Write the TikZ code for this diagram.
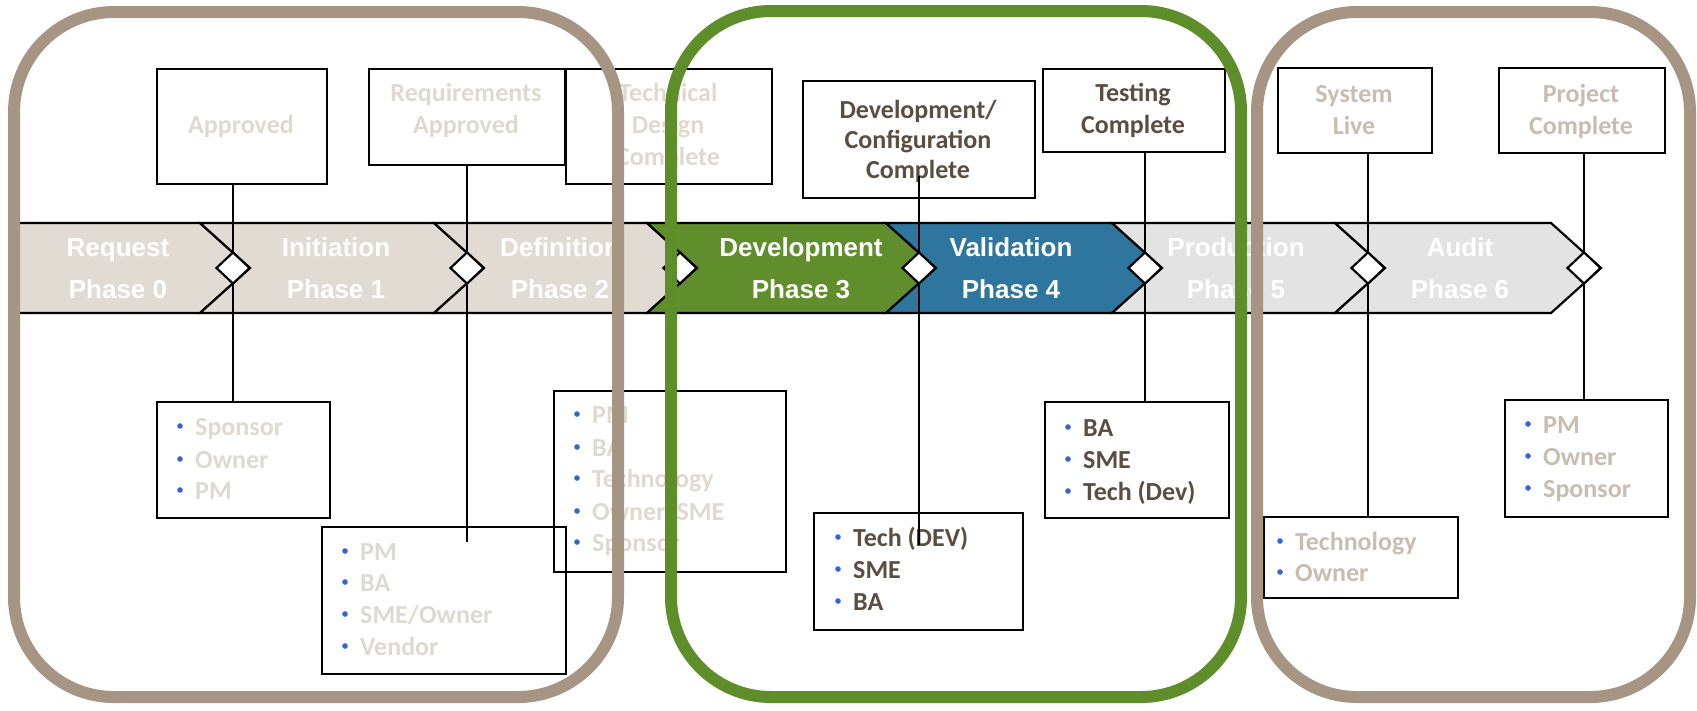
\documentclass[tikz,border=0pt]{standalone}
\usepackage{fontspec}
\usetikzlibrary{shapes.geometric}
\newfontfamily\chevfont{Liberation Sans}
\newfontfamily\labelfont{Carlito}
\definecolor{framebrown}{RGB}{166,149,130}
\definecolor{framegreen}{RGB}{94,142,42}
\definecolor{phgreen}{RGB}{96,142,44}
\definecolor{phblue}{RGB}{46,118,158}
\definecolor{phbeige}{RGB}{225,219,212}
\definecolor{phgray}{RGB}{227,227,227}
\definecolor{txtpale}{RGB}{224,217,209}
\definecolor{txtmid}{RGB}{201,189,178}
\definecolor{txtdark}{RGB}{91,77,64}
\definecolor{bulletblue}{RGB}{51,102,210}

% one bullet line: name, bullet x, line centre y, colour, text
\newcommand\bitem[5]{%
  \node[bullet] (#1b) at (#2,#3-1) {};
  \node[lbl, anchor=base west, text=#4] (#1) at (#2+15,#3+8.5) {#5};}

\begin{document}
\begin{tikzpicture}[x=1pt,y=-1pt,
  lbl/.style={font=\labelfont\bfseries\fontsize{26}{31}\selectfont, inner sep=0pt, anchor=base},
  chevtext/.style={font=\chevfont\bfseries\fontsize{26}{31}\selectfont, text=white, inner sep=0pt, anchor=base},
  box/.style={draw=black, line width=2.2pt, anchor=north west, inner sep=0pt},
  bullet/.style={circle, fill=bulletblue, inner sep=0pt, minimum size=5.6pt},
  chev/.style={draw=black, line width=2.2pt, line join=miter},
  gate/.style={diamond, draw=black, fill=white, line width=2.2pt, inner sep=0pt, minimum width=34pt, minimum height=32pt},
  link/.style={draw=black, line width=2.2pt},
  frame/.style={line width=12pt, rounded corners=100pt}]
\useasboundingbox (0,0) rectangle (1697,710);

% ---------- phase chevrons ----------
\fill[white] (0,0) rectangle (1697,710);
\path[chev, fill=phbeige] (14,223) -- (200,223) -- (250,268) -- (200,313) -- (14,313) -- cycle;
\path[chev, fill=phbeige] (200,223) -- (434,223) -- (484,268) -- (434,313) -- (200,313) -- (250,268) -- cycle;
\path[chev, fill=phbeige] (434,223) -- (647,223) -- (697,268) -- (647,313) -- (434,313) -- (484,268) -- cycle;
\path[chev, fill=phgreen] (647,223) -- (886,223) -- (936,268) -- (886,313) -- (647,313) -- (697,268) -- cycle;
\path[chev, fill=phblue] (886,223) -- (1112,223) -- (1162,268) -- (1112,313) -- (886,313) -- (936,268) -- cycle;
\path[chev, fill=phgray] (1112,223) -- (1335,223) -- (1385,268) -- (1335,313) -- (1112,313) -- (1162,268) -- cycle;
\path[chev, fill=phgray] (1335,223) -- (1551,223) -- (1601,268) -- (1551,313) -- (1335,313) -- (1385,268) -- cycle;

\node[chevtext] (p0a) at (118,256) {Request};
\node[chevtext] (p0b) at (118,298) {Phase 0};
\node[chevtext] (p1a) at (336,256) {Initiation};
\node[chevtext] (p1b) at (336,298) {Phase 1};
\node[chevtext] (p2a) at (560,256) {Definition};
\node[chevtext] (p2b) at (560,298) {Phase 2};
\node[chevtext] (p3a) at (801,256) {Development};
\node[chevtext] (p3b) at (801,298) {Phase 3};
\node[chevtext] (p4a) at (1011,256) {Validation};
\node[chevtext] (p4b) at (1011,298) {Phase 4};
\node[chevtext] (p5a) at (1236,256) {Production};
\node[chevtext] (p5b) at (1236,298) {Phase 5};
\node[chevtext] (p6a) at (1460,256) {Audit};
\node[chevtext] (p6b) at (1460,298) {Phase 6};

% ---------- milestone boxes ----------
\node[box, minimum width=170pt, minimum height=115pt] (t1) at (156,68) {};
\node[box, minimum width=196pt, minimum height=96pt] (t2) at (368,68) {};
\node[box, minimum width=206pt, minimum height=115pt] (t3) at (565,68) {};
\node[box, minimum width=232pt, minimum height=117pt] (t4) at (802,80) {};
\node[box, minimum width=182pt, minimum height=83pt] (t5) at (1042,68) {};
\node[box, minimum width=154pt, minimum height=85pt] (t6) at (1277,67) {};
\node[box, minimum width=166pt, minimum height=85pt] (t7) at (1498,67) {};

\node[lbl, text=txtpale] (t1a) at (241,133.5) {Approved};
\node[lbl, text=txtpale] (t2a) at (466,101.5) {Requirements};
\node[lbl, text=txtpale] (t2b) at (466,133.5) {Approved};
\node[lbl, text=txtpale] (t3a) at (668,101.5) {Technical};
\node[lbl, text=txtpale] (t3b) at (668,133.5) {Design};
\node[lbl, text=txtpale] (t3c) at (668,165.5) {Complete};
\node[lbl, text=txtdark] (t4a) at (918,118.5) {Development/};
\node[lbl, text=txtdark] (t4b) at (918,148.5) {Configuration};
\node[lbl, text=txtdark] (t4c) at (918,178.5) {Complete};
\node[lbl, text=txtdark] (t5a) at (1133,101.5) {Testing};
\node[lbl, text=txtdark] (t5b) at (1133,133.5) {Complete};
\node[lbl, text=txtmid] (t6a) at (1354,102.5) {System};
\node[lbl, text=txtmid] (t6b) at (1354,134.5) {Live};
\node[lbl, text=txtmid] (t7a) at (1581,102.5) {Project};
\node[lbl, text=txtmid] (t7b) at (1581,134.5) {Complete};

% ---------- role boxes ----------
\node[box, minimum width=173pt, minimum height=116pt] (ra) at (156,401) {};
\node[box, minimum width=244pt, minimum height=147pt] (rb) at (321,526) {};
\node[box, minimum width=232pt, minimum height=181pt] (rc) at (553,390) {};
\node[box, minimum width=209pt, minimum height=117pt] (rd) at (813,512) {};
\node[box, minimum width=184pt, minimum height=116pt] (re) at (1044,401) {};
\node[box, minimum width=194pt, minimum height=81pt] (rf) at (1263,516) {};
\node[box, minimum width=163pt, minimum height=117pt] (rg) at (1504,399) {};

\bitem{ra1}{180}{427}{txtpale}{Sponsor}
\bitem{ra2}{180}{460}{txtpale}{Owner}
\bitem{ra3}{180}{491}{txtpale}{PM}

\bitem{rb1}{345}{552}{txtpale}{PM}
\bitem{rb2}{345}{583}{txtpale}{BA}
\bitem{rb3}{345}{615}{txtpale}{SME/Owner}
\bitem{rb4}{345}{647}{txtpale}{Vendor}

\bitem{rc1}{577}{415}{txtpale}{PM}
\bitem{rc2}{577}{448}{txtpale}{BA}
\bitem{rc3}{577}{479}{txtpale}{Technology}
\bitem{rc4}{577}{512}{txtpale}{Owner/SME}
\bitem{rc5}{577}{543}{txtpale}{Sponsor}

\bitem{rd1}{838}{538}{txtdark}{Tech (DEV)}
\bitem{rd2}{838}{570}{txtdark}{SME}
\bitem{rd3}{838}{602}{txtdark}{BA}

\bitem{re1}{1068}{428}{txtdark}{BA}
\bitem{re2}{1068}{460}{txtdark}{SME}
\bitem{re3}{1068}{492}{txtdark}{Tech (Dev)}

\bitem{rf1}{1280}{542}{txtmid}{Technology}
\bitem{rf2}{1280}{573}{txtmid}{Owner}

\bitem{rg1}{1528}{425}{txtmid}{PM}
\bitem{rg2}{1528}{457}{txtmid}{Owner}
\bitem{rg3}{1528}{489}{txtmid}{Sponsor}

% ---------- gates at the phase ends ----------
\node[gate] (d0) at (233,268) {};
\node[gate] (d1) at (467,268) {};
\node[gate] (d2) at (680,268) {};
\node[gate] (d3) at (919,268) {};
\node[gate] (d4) at (1145,268) {};
\node[gate] (d5) at (1368,268) {};
\node[gate] (d6) at (1584,268) {};

\coordinate (c2top) at (467,542);
\coordinate (c4top) at (919,176);
\coordinate (c4end) at (919,545);

\draw[link] (t1.south -| d0) -- (d0.north) (d0.south) -- (ra.north -| d0);
\draw[link] (t2.south -| d1) -- (d1.north) (d1.south) -- (c2top);
\draw[link] (c4top) -- (d3.north) (d3.south) -- (c4end);
\draw[link] (t5.south -| d4) -- (d4.north) (d4.south) -- (re.north -| d4);
\draw[link] (t6.south -| d5) -- (d5.north) (d5.south) -- (rf.north -| d5);
\draw[link] (t7.south -| d6) -- (d6.north) (d6.south) -- (rg.north -| d6);

% ---------- stage frames ----------
\draw[frame, draw=framebrown] (14,12) rectangle (618,697);
\draw[frame, draw=framegreen] (671,11) rectangle (1241,697);
\draw[frame, draw=framebrown] (1257,12) rectangle (1690,697);
\end{tikzpicture}
\end{document}
